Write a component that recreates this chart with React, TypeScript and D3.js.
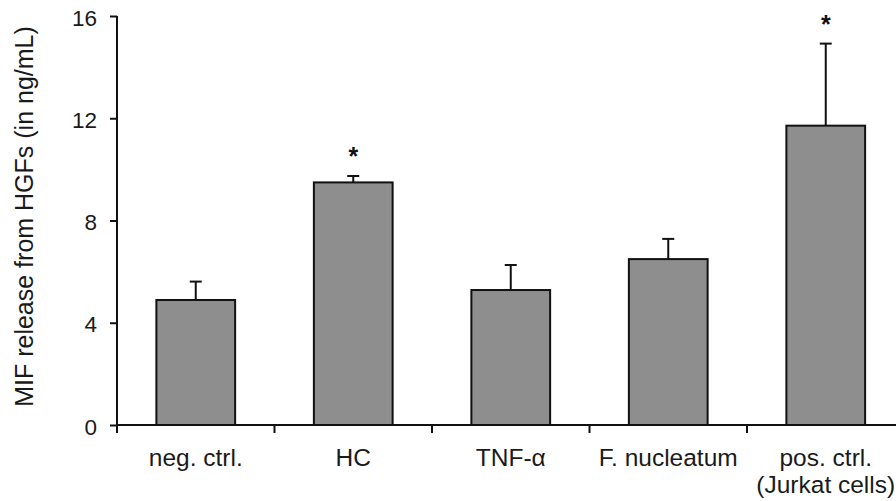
import { useEffect, useRef } from 'react';
import * as d3 from 'd3';

// data
const categories = ['neg. ctrl.', 'HC', 'TNF-α', 'F. nucleatum', 'pos. ctrl.'];
const subLabels = ['', '', '', '', '(Jurkat cells)'];
const means = [4.89, 9.49, 5.28, 6.49, 11.71];
const errors = [0.72, 0.25, 0.98, 0.79, 3.21];
const significant = [false, true, false, false, true];
const yTicks = [0, 4, 8, 12, 16];

const App = () => {
  const ref = useRef<SVGSVGElement | null>(null);

  useEffect(() => {
    const svg = d3.select(ref.current);
    svg.selectAll('*').remove();

    const width = 896;
    const x0 = 117;
    const step = 157.5;
    const font = 'Liberation Sans, Arial, sans-serif';

    const x = d3
      .scaleBand<string>()
      .domain(categories)
      .range([x0, x0 + step * categories.length])
      .paddingInner(0.5)
      .paddingOuter(0.25);

    const y = d3.scaleLinear().domain([0, 16]).range([425, 16]);

    const data = categories.map((c, i) => ({
      c,
      sub: subLabels[i],
      mean: means[i],
      err: errors[i],
      sig: significant[i],
    }));

    // bars
    svg
      .append('g')
      .selectAll('rect')
      .data(data)
      .join('rect')
      .attr('x', (d) => x(d.c)!)
      .attr('y', (d) => y(d.mean))
      .attr('width', x.bandwidth())
      .attr('height', (d) => y(0) - y(d.mean))
      .attr('fill', '#8e8e8e')
      .attr('stroke', '#111')
      .attr('stroke-width', 2);

    // error bars
    const eb = svg.append('g').attr('stroke', '#111').attr('stroke-width', 2);
    data.forEach((d) => {
      const cx = x(d.c)! + x.bandwidth() / 2;
      eb.append('line')
        .attr('x1', cx)
        .attr('x2', cx)
        .attr('y1', y(d.mean))
        .attr('y2', y(d.mean + d.err));
      eb.append('line')
        .attr('x1', cx - 6)
        .attr('x2', cx + 6)
        .attr('y1', y(d.mean + d.err))
        .attr('y2', y(d.mean + d.err));
    });

    // asterisks
    svg
      .append('g')
      .selectAll('text')
      .data(data.filter((d) => d.sig))
      .join('text')
      .attr('x', (d) => x(d.c)! + x.bandwidth() / 2)
      .attr('y', (d) => y(d.mean + d.err) - 11)
      .attr('text-anchor', 'middle')
      .attr('font-family', font)
      .attr('font-size', 25)
      .attr('font-weight', 'bold')
      .attr('fill', '#111')
      .text('*');

    // y axis
    const yAxis = svg
      .append('g')
      .attr('transform', `translate(${x0},0)`)
      .call(d3.axisLeft(y).tickValues(yTicks).tickSize(7).tickPadding(13));
    yAxis.select('.domain').remove();
    yAxis.selectAll('line').attr('stroke', '#111').attr('stroke-width', 2);
    yAxis
      .selectAll('text')
      .attr('font-family', font)
      .attr('font-size', 22.5)
      .attr('fill', '#1a1a1a')
      .attr('dy', '0.4em');
    svg
      .append('line')
      .attr('x1', x0)
      .attr('x2', x0)
      .attr('y1', y(16))
      .attr('y2', y(0) + 8)
      .attr('stroke', '#111')
      .attr('stroke-width', 2);

    // x axis line + category separators
    svg
      .append('line')
      .attr('x1', x0)
      .attr('x2', width)
      .attr('y1', y(0))
      .attr('y2', y(0))
      .attr('stroke', '#111')
      .attr('stroke-width', 2);
    svg
      .append('g')
      .selectAll('line')
      .data(categories.slice(1))
      .join('line')
      .attr('x1', (c) => x(c)! - x.step() * 0.25)
      .attr('x2', (c) => x(c)! - x.step() * 0.25)
      .attr('y1', y(0))
      .attr('y2', y(0) + 8)
      .attr('stroke', '#111')
      .attr('stroke-width', 2);

    // category labels
    const labels = svg
      .append('g')
      .attr('font-family', font)
      .attr('font-size', 24.5)
      .attr('fill', '#1a1a1a')
      .attr('text-anchor', 'middle');
    data.forEach((d) => {
      const cx = x(d.c)! + x.bandwidth() / 2;
      labels.append('text').attr('x', cx).attr('y', 466).text(d.c);
      if (d.sub) labels.append('text').attr('x', cx).attr('y', 493).text(d.sub);
    });

    // y axis title
    svg
      .append('text')
      .attr('transform', `translate(33,${(y(0) + y(16)) / 2 - 4}) rotate(-90)`)
      .attr('text-anchor', 'middle')
      .attr('font-family', font)
      .attr('font-size', 25)
      .attr('fill', '#1a1a1a')
      .text('MIF release from HGFs (in ng/mL)');
  }, []);

  return (
    <svg
      ref={ref}
      width={896}
      height={501}
      style={{ position: 'absolute', left: 0, top: 0, background: '#fff' }}
    />
  );
};

export default App;
